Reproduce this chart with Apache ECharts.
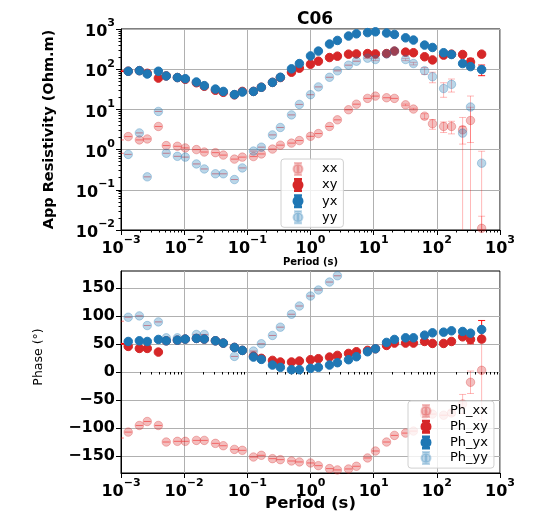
<!DOCTYPE html>
<html><head><meta charset="utf-8">
<script src="https://cdn.jsdelivr.net/npm/echarts@6/dist/echarts.min.js"></script>
<style>html,body{margin:0;padding:0;background:#fff}#c{width:540px;height:512px}</style>
</head><body><div id="c"></div>
<script>
// ---- data ----
const periods = [0.000977, 0.001302, 0.001953, 0.002604, 0.003906, 0.005208, 0.007813, 0.010417, 0.015625, 0.020833,
  0.03125, 0.041667, 0.0625, 0.083333, 0.125, 0.166667, 0.25, 0.333333, 0.5, 0.666667,
  1, 1.333333, 2, 2.666667, 4, 5.333333, 8, 10.666667, 16, 21.333333,
  32, 42.666667, 64, 85.333333, 128, 170.666667, 256, 341.333333, 512];

const rhoXX = [1.74, 2.11, 1.74, 1.84, 3.76, 1.26, 1.21, 1.10, 1.0, 0.87,
  0.84, 0.73, 0.58, 0.65, 0.67, 0.78, 1.03, 1.29, 1.45, 1.68,
  2.14, 2.51, 3.76, 5.5, 9.8, 13.5, 18.8, 21.4, 19.5, 18.8,
  13.0, 10.2, 6.8, 4.4, 3.76, 3.76, 3.1, 5.3, 0.011];
const rhoXY = [89, 89, 92, 79, 60, 68, 62, 56, 46, 37.6,
  30, 26.6, 23, 28, 28, 35.5, 47, 62, 84, 106,
  133, 158, 195, 211, 237, 240, 245, 240, 245, 282,
  266, 257, 204, 170, 224, 237, 232, 151, 237];
const rhoYX = [89, 89, 92, 76, 89, 68, 62, 58, 48, 39,
  32, 28, 23.4, 27, 28, 35.5, 47, 63, 102, 138,
  214, 282, 422, 519, 668, 759, 813, 851, 794, 733,
  603, 531, 398, 347, 257, 232, 138, 116, 98];
const rhoYY = [0.81, 0.76, 2.6, 0.21, 8.9, 0.81, 0.68, 0.65, 0.44, 0.33,
  0.25, 0.25, 0.18, 0.35, 0.92, 1.15, 2.32, 3.55, 7.3, 13.3,
  23.2, 36.3, 63, 91, 126, 158, 188, 174, 240, 282,
  174, 138, 92, 65, 33, 42, 2.57, 11.5, 0.46];

const errRhoXX = [0,0,0,0,0,0,0,0,0,0, 0,0,0,0,0,0,0,0,0,0, 0,0,0,0,0,0,0,0,0,0, 0.6,0.5,1.0,1.2,1.1,1.3,3.2,6,0.011];
const errRhoXY = [0,0,0,0,0,0,0,0,0,0, 0,0,0,0,0,0,0,0,0,0, 0,0,0,0,0,0,0,0,0,0, 0,0,0,0,0,0,10,35,20];
const errRhoYX = [0,0,0,0,0,0,0,0,0,0, 0,0,0,0,0,0,0,0,0,0, 0,0,0,0,0,0,0,0,0,0, 0,0,0,0,0,0,0,15,29];
const errRhoYY = [0,0,0,0,0,0,0,0,0,0, 0,0,0,0,0,0,0,0,0,0, 0,0,0,0,0,0,0,10,0,0, 10,10,18,19,13,15,1.2,10,0.45];

const phXX = [-117.7, -107.1, -95.3, -88.2, -95.3, -124.8, -123.6, -123.6, -121.9, -121.9,
  -127.2, -131.4, -137.9, -139.6, -151.5, -148.5, -154.4, -156.2, -158.6, -160.3,
  -162.1, -166.9, -172.2, -174.5, -172.8, -168.0, -153.2, -140.8, -124.8, -113.0,
  -108.9, -105.3, -76, -75, -77, -73, -57, -18.3, 3.0];
const phXY = [49.7, 45.6, 42.0, 42.0, 35.5, 55.6, 56.8, 58.6, 59.8, 58.6,
  55.6, 51.5, 43.8, 38.5, 28.4, 24.3, 20.7, 17.8, 17.8, 19.5,
  21.9, 23.7, 26.6, 29.6, 33.1, 36.1, 38.5, 41.4, 47.3, 51.5,
  51.5, 51.5, 54.4, 50.9, 50.9, 54.4, 62.7, 58.0, 58.6];
const phYX = [50.9, 54.4, 55.6, 54.4, 58.0, 55.6, 56.8, 58.6, 59.8, 58.6,
  55.6, 51.5, 43.8, 38.5, 26.6, 22.5, 12.4, 8.3, 4.1, 4.1,
  6.5, 8.3, 12.4, 16.6, 21.9, 27.2, 36.1, 41.4, 52.7, 58.0,
  60.9, 60.9, 65.7, 69.8, 71.0, 73.4, 72.2, 69.2, 75.7];
const phYY = [90.5, 97.6, 100, 82.8, 89.3, 60.9, 60.9, 58.6, 66.9, 66.9,
  55.6, 51.5, 27.8, 38.5, 37.3, 50.3, 65.1, 79.9, 102.9, 117.6,
  135.4, 146.1, 160.3, 171.5, null, null, null, null, null, null,
  null, null, null, null, null, null, null, null, null];

const errPhXX = [0,0,0,0,0,0,0,0,0,0, 0,0,0,0,0,0,0,0,0,0, 0,0,0,0,0,0,0,0,0,0, 0,0,0,0,0,5,17,20,89];
const errPhXY = [0,0,0,0,0,0,0,0,0,0, 0,0,0,0,0,0,0,0,0,0, 0,0,0,0,0,0,0,0,0,0, 0,0,0,0,0,0,4,7.7,5];
const errPhYX = [0,0,0,0,0,0,0,0,0,0, 0,0,0,0,0,0,0,0,0,0, 0,0,0,0,0,0,0,0,0,0, 0,0,0,0,0,0,0,0,16];
const errPhYY = [0,0,0,0,0,0,0,0,0,0, 0,0,0,0,0,0,0,0,0,0, 0,0,0,0,0,0,0,0,0,0, 0,0,0,0,0,0,0,0,0];

const phaseTickValues = [-150, -100, -50, 0, 50, 100, 150];

// ---- styling ----
const FONT = 'DejaVu Sans';
const RED = '#d62728', BLUE = '#1f77b4';
const LRED = 'rgba(214,39,40,0.3)', LBLUE = 'rgba(31,119,180,0.3)';
const EBAR = 'rgba(255,0,0,0.9)', LEBAR = 'rgba(255,0,0,0.28)';

function minorLog(lo, hi) {
  const out = [];
  for (let d = lo; d < hi; d++) for (let m = 2; m <= 9; m++) out.push(+(m * Math.pow(10, d)).toPrecision(3));
  return out;
}
function supLabel(v) {
  const e = Math.round(Math.log10(v));
  return '{b|10}{s|' + (e < 0 ? '\u2212' + (-e) : e) + '}';
}
const richSup = {
  b: { fontFamily: FONT, fontWeight: 'bold', fontSize: 16, color: '#000', lineHeight: 22, verticalAlign: 'bottom' },
  s: { fontFamily: FONT, fontWeight: 'bold', fontSize: 11, color: '#000', lineHeight: 12, verticalAlign: 'top' }
};

function errSeries(name, xi, yi, vals, errs, color, isLog) {
  const data = [];
  periods.forEach((p, i) => {
    const v = vals[i];
    if (v == null) return;
    let lo = v - errs[i], hi = v + errs[i];
    if (isLog && lo <= 0) lo = v * 1e-6;
    data.push([p, lo, hi]);
  });
  return {
    type: 'custom', name: name, xAxisIndex: xi, yAxisIndex: yi, clip: true, silent: true,
    encode: { x: 0, y: [1, 2] },
    data: data,
    renderItem: function (params, api) {
      const x = api.value(0);
      const a = api.coord([x, api.value(1)]);
      const b = api.coord([x, api.value(2)]);
      const st = { stroke: color, lineWidth: 1 };
      const c = 3.5;
      return { type: 'group', children: [
        { type: 'line', shape: { x1: a[0], y1: a[1], x2: b[0], y2: b[1] }, style: st },
        { type: 'line', shape: { x1: a[0] - c, y1: a[1], x2: a[0] + c, y2: a[1] }, style: st },
        { type: 'line', shape: { x1: b[0] - c, y1: b[1], x2: b[0] + c, y2: b[1] }, style: st }
      ] };
    }
  };
}
function dotSeries(name, xi, yi, vals, color) {
  return {
    type: 'scatter', name: name, xAxisIndex: xi, yAxisIndex: yi, symbol: 'circle', symbolSize: 8.5,
    itemStyle: { color: color, borderColor: color, borderWidth: 1, opacity: 1 },
    data: periods.map((p, i) => [p, vals[i]]).filter(d => d[1] != null),
    emphasis: { disabled: true }
  };
}

const ICON = 'path://M0,6 M24,6 M11.7,0 L12.3,0 L12.3,12 L11.7,12 Z M9,0 L15,0 L15,0.6 L9,0.6 Z M9,11.4 L15,11.4 L15,12 L9,12 Z M16.5,6 A4.5,4.5 0 1 1 7.5,6 A4.5,4.5 0 1 1 16.5,6 Z';

const axLine = { show: true, onZero: false, lineStyle: { color: '#000', width: 1 } };
const split = { show: true, lineStyle: { color: '#b0b0b0', width: 1 } };

function xMain(gi, nameCfg) {
  return Object.assign({
    type: 'log', logBase: 10, gridIndex: gi, min: 0.001, max: 1000, splitNumber: 6,
    axisLine: axLine, axisTick: { show: true, length: 5, lineStyle: { color: '#000' } },
    splitLine: split,
    axisLabel: { formatter: supLabel, rich: richSup, margin: 5 },
    nameLocation: 'middle'
  }, nameCfg);
}
function xMinor(gi) {
  return {
    type: 'log', logBase: 10, gridIndex: gi, min: 0.001, max: 1000, position: 'bottom',
    axisLine: { show: false }, splitLine: { show: false }, axisLabel: { show: false },
    axisTick: { show: true, length: 2.5, lineStyle: { color: '#000' }, customValues: minorLog(-3, 3) }
  };
}

const option = {
  animation: false,
  backgroundColor: '#fff',
  title: { text: 'C06', left: 310, top: 6, textAlign: 'center',
    textStyle: { fontFamily: FONT, fontWeight: 'bold', fontSize: 17, color: '#000' } },
  grid: [
    { left: 121, top: 29, width: 379, height: 201, show: true, borderColor: '#000', borderWidth: 1, backgroundColor: 'transparent', outerBoundsMode: 'none', containLabel: false },
    { left: 121, top: 271, width: 379, height: 202, show: true, borderColor: '#000', borderWidth: 1, backgroundColor: 'transparent', outerBoundsMode: 'none', containLabel: false }
  ],
  xAxis: [
    xMain(0, { name: 'Period (s)', nameGap: 27, nameTextStyle: { fontFamily: FONT, fontWeight: 'bold', fontSize: 10, color: '#000' } }),
    xMinor(0),
    xMain(1, { name: 'Period (s)', nameGap: 22, nameMoveOverlap: false, nameTextStyle: { fontFamily: FONT, fontWeight: 'bold', fontSize: 16.5, color: '#000' } }),
    xMinor(1)
  ],
  yAxis: [
    { type: 'log', logBase: 10, gridIndex: 0, min: 0.01, max: 1000, splitNumber: 5,
      axisLine: axLine, axisTick: { show: true, length: 5, lineStyle: { color: '#000' } }, splitLine: split,
      axisLabel: { formatter: supLabel, rich: richSup, margin: 6 },
      name: 'App Resistivity (Ohm.m)', nameLocation: 'middle', nameRotate: 90, nameGap: 64,
      nameTextStyle: { fontFamily: FONT, fontWeight: 'bold', fontSize: 14.5, color: '#000' } },
    { type: 'log', logBase: 10, gridIndex: 0, min: 0.01, max: 1000, position: 'left',
      axisLine: { show: false }, splitLine: { show: false }, axisLabel: { show: false },
      axisTick: { show: true, length: 2.5, lineStyle: { color: '#000' }, customValues: minorLog(-2, 3) } },
    { type: 'value', gridIndex: 1, min: -180, max: 180,
      axisLine: axLine,
      axisTick: { show: true, length: 5, lineStyle: { color: '#000' }, customValues: phaseTickValues },
      splitLine: split,
      axisLabel: { customValues: phaseTickValues, fontFamily: FONT, fontWeight: 'bold', fontSize: 16, color: '#000', margin: 6,
        formatter: v => (v < 0 ? '\u2212' + (-v) : '' + v) },
      name: 'Phase (°)', nameLocation: 'middle', nameRotate: 90, nameGap: 76,
      nameTextStyle: { fontFamily: FONT, fontSize: 12.5, color: '#000', padding: [0, 0, 0, 30] } }
  ],
  legend: [
    { data: ['xx', 'xy', 'yx', 'yy'], orient: 'vertical', left: 281, top: 159, icon: ICON,
      itemWidth: 24, itemHeight: 12, itemGap: 2.1, padding: [3, 6, 3, 4],
      backgroundColor: 'rgba(255,255,255,0.8)', borderColor: '#d0d0d0', borderWidth: 1, borderRadius: 3,
      textStyle: { fontFamily: FONT, fontSize: 13, lineHeight: 12, color: '#000', padding: [0, 0, 0, 7] } },
    { data: ['Ph_xx', 'Ph_xy', 'Ph_yx', 'Ph_yy'], orient: 'vertical', left: 408, top: 401, icon: ICON,
      itemWidth: 24, itemHeight: 12, itemGap: 1.7, padding: [3, 6, 3, 5],
      backgroundColor: 'rgba(255,255,255,0.8)', borderColor: '#d0d0d0', borderWidth: 1, borderRadius: 3,
      textStyle: { fontFamily: FONT, fontSize: 13, lineHeight: 12, color: '#000', padding: [0, 0, 0, 7] } }
  ],
  series: [
    errSeries('e_xx', 0, 0, rhoXX, errRhoXX, LEBAR, true), dotSeries('xx', 0, 0, rhoXX, LRED),
    errSeries('e_xy', 0, 0, rhoXY, errRhoXY, EBAR, true), dotSeries('xy', 0, 0, rhoXY, RED),
    errSeries('e_yx', 0, 0, rhoYX, errRhoYX, EBAR, true), dotSeries('yx', 0, 0, rhoYX, BLUE),
    errSeries('e_yy', 0, 0, rhoYY, errRhoYY, LEBAR, true), dotSeries('yy', 0, 0, rhoYY, LBLUE),
    errSeries('e_pxx', 2, 2, phXX, errPhXX, LEBAR, false), dotSeries('Ph_xx', 2, 2, phXX, LRED),
    errSeries('e_pxy', 2, 2, phXY, errPhXY, EBAR, false), dotSeries('Ph_xy', 2, 2, phXY, RED),
    errSeries('e_pyx', 2, 2, phYX, errPhYX, EBAR, false), dotSeries('Ph_yx', 2, 2, phYX, BLUE),
    errSeries('e_pyy', 2, 2, phYY, errPhYY, LEBAR, false), dotSeries('Ph_yy', 2, 2, phYY, LBLUE)
  ]
};
const chart = echarts.init(document.getElementById('c'), null, { renderer: 'canvas' });
chart.setOption(option);
</script>
</body></html>
